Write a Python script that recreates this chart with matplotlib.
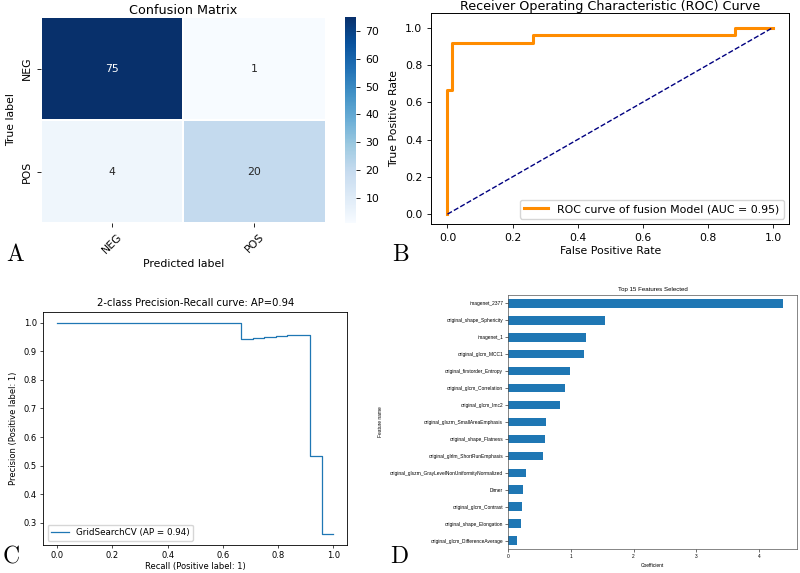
import numpy as np
import matplotlib
matplotlib.use("Agg")
import matplotlib.pyplot as plt
import seaborn as sns

plt.rcParams['mathtext.fontset'] = 'cm'

# A: confusion matrix
cm_labels = ['NEG', 'POS']
cm_values = [[75, 1], [4, 20]]

# B: ROC curve
roc_fpr = [0.0, 0.0, 0.013, 0.013, 0.263, 0.263, 0.882, 0.882, 1.0]
roc_tpr = [0.0, 0.667, 0.667, 0.917, 0.917, 0.958, 0.958, 1.0, 1.0]
roc_auc = 0.95

# C: precision-recall (sklearn order, decreasing recall)
pr_recall = [1.0, 0.958, 0.917, 0.875, 0.833, 0.792, 0.75, 0.708, 0.667, 0.667, 0.0]
pr_precision = [0.26, 0.535, 0.957, 0.955, 0.952, 0.95, 0.947, 0.944, 0.941, 1.0, 1.0]
pr_ap = 0.94

# D: top features
feat_names = ['imagenet_2377', 'original_shape_Sphericity', 'imagenet_1',
              'original_glcm_MCC1', 'original_firstorder_Entropy',
              'original_glcm_Correlation', 'original_glcm_Imc2',
              'original_glszm_SmallAreaEmphasis', 'original_shape_Flatness',
              'original_glrlm_ShortRunEmphasis',
              'original_glszm_GrayLevelNonUniformityNormalized', 'Dimer',
              'original_glcm_Contrast', 'original_shape_Elongation',
              'original_glcm_DifferenceAverage']
feat_coef = [4.38, 1.55, 1.25, 1.21, 0.99, 0.90, 0.83, 0.61, 0.59, 0.55,
             0.28, 0.24, 0.22, 0.21, 0.15]

fig = plt.figure(figsize=(8, 5.73), dpi=100)

# ---- A
fs_a = 7.8
ax_a = fig.add_axes([0.051, 0.6108, 0.356, 0.3595])
cax = fig.add_axes([0.431, 0.6108, 0.0145, 0.3595])
sns.heatmap(np.array(cm_values), annot=True, fmt='d', cmap='Blues', ax=ax_a, cbar_ax=cax,
            xticklabels=cm_labels, yticklabels=cm_labels, linewidths=0.3, linecolor='white',
            annot_kws={'size': fs_a})
ax_a.set_title('Confusion Matrix', fontsize=9.2, pad=2)
ax_a.set_xlabel('Predicted label', fontsize=fs_a, labelpad=2)
ax_a.set_ylabel('True label', fontsize=fs_a)
ax_a.tick_params(labelsize=fs_a, length=3, width=0.6)
plt.setp(ax_a.get_xticklabels(), rotation=45)
plt.setp(ax_a.get_yticklabels(), rotation=90, va='center')
cax.set_yticks([10, 20, 30, 40, 50, 60, 70])
cax.tick_params(labelsize=fs_a, length=3, width=0.6)

# ---- B
ax_b = fig.add_axes([0.539, 0.609, 0.4475, 0.368])
ax_b.plot(roc_fpr, roc_tpr, color='darkorange', lw=2.2,
          label='ROC curve of fusion Model (AUC = %0.2f)' % roc_auc)
ax_b.plot([0, 1], [0, 1], color='navy', lw=1, linestyle='--')
ax_b.set_xlim(-0.05, 1.05)
ax_b.set_ylim(-0.053, 1.077)
ax_b.set_title('Receiver Operating Characteristic (ROC) Curve', fontsize=9.2, pad=1)
ax_b.set_xlabel('False Positive Rate', fontsize=fs_a, labelpad=2)
ax_b.set_ylabel('True Positive Rate', fontsize=fs_a)
ax_b.tick_params(labelsize=fs_a, length=3, width=0.6)
ax_b.legend(loc='lower right', fontsize=7.9, handlelength=2.2)
for s in ax_b.spines.values():
    s.set_linewidth(0.7)

# ---- C
fs_c = 6.0
ax_c = fig.add_axes([0.054, 0.0489, 0.38, 0.4066])
ax_c.plot(pr_recall, pr_precision, drawstyle='steps-post', color='tab:blue', lw=0.9,
          label='GridSearchCV (AP = %0.2f)' % pr_ap)
ax_c.set_title('2-class Precision-Recall curve: AP=%0.2f' % pr_ap, fontsize=7.2, pad=4)
ax_c.set_xlabel('Recall (Positive label: 1)', fontsize=fs_c, labelpad=1)
ax_c.set_ylabel('Precision (Positive label: 1)', fontsize=fs_c)
ax_c.tick_params(labelsize=fs_c, length=2.5, width=0.5, pad=2)
ax_c.legend(loc='lower left', fontsize=6.3)
for s in ax_c.spines.values():
    s.set_linewidth(0.6)

# ---- D
fs_d = 3.5
fam_d = 'Liberation Sans'
ax_d = fig.add_axes([0.635, 0.0419, 0.361, 0.4433])
ypos = np.arange(len(feat_names))[::-1]
ax_d.barh(ypos, feat_coef, height=0.5, color='#1f77b4')
ax_d.set_yticks(ypos)
ax_d.set_yticklabels(feat_names, fontsize=fs_d, family=fam_d)
ax_d.set_ylim(-0.5, len(feat_names) - 0.5)
ax_d.set_xticks([0, 1, 2, 3, 4])
ax_d.set_xticklabels(['0', '1', '2', '3', '4'], fontsize=fs_d, family=fam_d)
ax_d.tick_params(length=2, width=0.4, pad=1.5)
ax_d.set_title('Top 15 Features Selected', fontsize=4.4, family=fam_d, pad=3)
ax_d.set_xlabel('Coefficient', fontsize=fs_d, family=fam_d, labelpad=3)
ax_d.set_ylabel('Feature name', fontsize=fs_d, family=fam_d, labelpad=5)
for s in ax_d.spines.values():
    s.set_linewidth(0.5)
    s.set_color('#555555')

# panel letters
for x, y, t in [(0.008, 0.5445, 'A'), (0.490, 0.5445, 'B'),
                (0.002, 0.018, 'C'), (0.487, 0.018, 'D')]:
    fig.text(x, y, r'$\mathrm{%s}$' % t, fontsize=17, va='baseline')

fig.savefig('out.png', dpi=100)
